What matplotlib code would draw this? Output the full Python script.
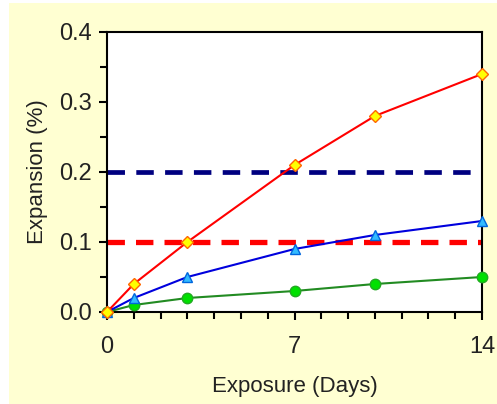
import matplotlib
matplotlib.use("Agg")
import matplotlib.pyplot as plt
from matplotlib.patches import Rectangle
from matplotlib.ticker import MultipleLocator

days = [0, 1, 3, 7, 10, 14]
red_series = [0.0, 0.04, 0.10, 0.21, 0.28, 0.34]
blue_series = [0.0, 0.02, 0.05, 0.09, 0.11, 0.13]
green_series = [0.0, 0.01, 0.02, 0.03, 0.04, 0.05]
limit_high = 0.2
limit_low = 0.1
x_ticks = [0, 7, 14]
y_ticks = [0.0, 0.1, 0.2, 0.3, 0.4]

plt.rcParams['font.family'] = ['Liberation Sans', 'DejaVu Sans']

fig = plt.figure(figsize=(4.97, 4.04), dpi=100)
fig.patch.set_facecolor('white')
bg = Rectangle((9/497, 0), 1 - 9/497, 1 - 3/404, transform=fig.transFigure,
               facecolor='#FFFFD2', edgecolor='none', zorder=-10)
fig.add_artist(bg)

ax = fig.add_axes([107/497, 92/404, 375/497, 280/404])
ax.set_facecolor('white')
ax.set_zorder(1)

ax.axhline(limit_high, color='#000080', lw=3.4, dashes=(3.7, 2.4), zorder=2)
ax.axhline(limit_low, color='#FF0000', lw=3.8, dashes=(3.3, 2.1), zorder=2)

ax.plot(days, green_series, color='#228B22', lw=1.5, marker='o', ms=7.5,
        mfc='#00E000', mec='#22AA22', zorder=3, clip_on=False)
ax.plot(days, blue_series, color='#0000DD', lw=1.5, marker='^', ms=7.5,
        mfc='#33BBFF', mec='#0066DD', zorder=3, clip_on=False)
ax.plot(days, red_series, color='#FF0000', lw=1.5, marker='D', ms=6,
        mfc='#FFFF00', mec='#FF6600', zorder=4, clip_on=False)

ax.set_xlim(0, 14)
ax.set_ylim(0, 0.4)
ax.set_xticks(x_ticks)
ax.set_xticklabels([str(v) for v in x_ticks])
ax.xaxis.set_minor_locator(MultipleLocator(1))
ax.set_yticks(y_ticks)
ax.set_yticklabels([f"{v:.1f}" for v in y_ticks])
ax.yaxis.set_minor_locator(MultipleLocator(0.05))

ax.tick_params(axis='both', which='both', direction='out', width=1.5, colors='black', labelsize=17, labelcolor='#222222')
ax.tick_params(axis='both', which='major', length=6)
ax.tick_params(axis='both', which='minor', length=5)
ax.tick_params(axis='x', pad=11)
ax.tick_params(axis='y', pad=5)

for s in ax.spines.values():
    s.set_linewidth(1.5)

ax.set_xlabel('Exposure (Days)', fontsize=16, color='#222222', labelpad=13)
ax.set_ylabel('Expansion (%)', fontsize=16, color='#222222', labelpad=8)

fig.savefig('out.png', dpi=100)
